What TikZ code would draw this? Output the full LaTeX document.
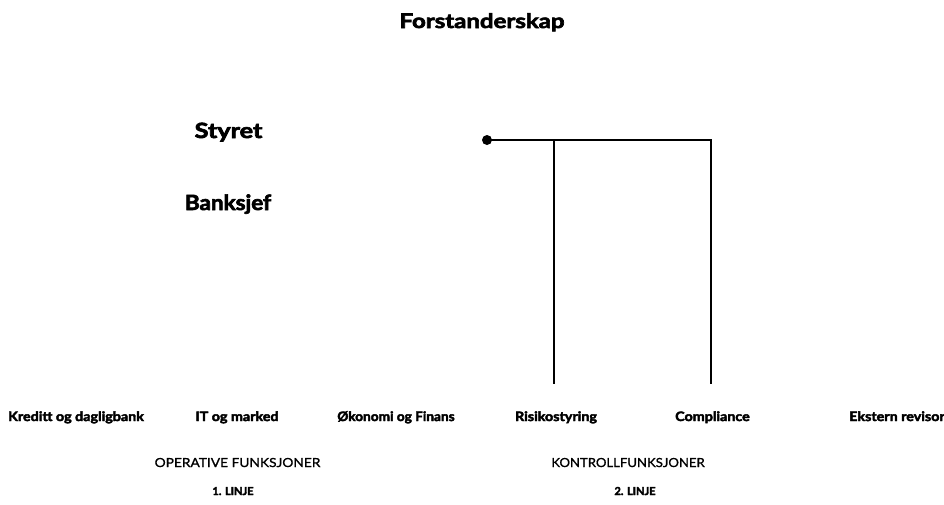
\documentclass[tikz,border=0pt]{standalone}
\usepackage{graphicx}
\usepackage{fontspec}
\setmainfont{Lato}[BoldFeatures={FakeBold=3}]
\newfontfamily\grpfont{Lato}[FakeBold=1]
\newcommand\hsx[2]{\scalebox{#1}[1]{#2}}
\tikzset{
  txt/.style={inner sep=0pt, anchor=base},
  title/.style={txt, font=\bfseries\fontsize{20}{24}\selectfont},
  level/.style={txt, font=\bfseries\fontsize{21}{25}\selectfont},
  unit/.style={txt, font=\bfseries\fontsize{13}{15}\selectfont},
  group/.style={txt, font=\grpfont\fontsize{12.5}{15}\selectfont},
  linje/.style={txt, font=\bfseries\fontsize{11}{13}\selectfont},
  conn/.style={line width=2pt},
  dotc/.style={fill=black, circle, inner sep=0pt, minimum size=10pt}
}
\begin{document}
\begin{tikzpicture}[x=1pt,y=-1pt]
\useasboundingbox (0,0) rectangle (944,504);
\node[title] (forst) at (482,28) {\hsx{1.2}{Forstanderskap}};
\node[level] (styret) at (228.5,138) {\hsx{1.2}{Styret}};
\node[level] (banksjef) at (228,210) {\hsx{1.07}{Banksjef}};
\node[dotc] (dot) at (487,140) {};
\coordinate (j1) at (554,140);
\coordinate (j2) at (711,140);
\coordinate (e1) at (554,384);
\coordinate (e2) at (711,384);
\draw[conn] (dot.center) -- (j2) -- (e2);
\draw[conn] (j1) -- (e1);
\node[unit] (kred) at (76,421) {\hsx{1.1}{Kreditt og dagligbank}};
\node[unit] (it) at (237,421) {\hsx{1.1}{IT og marked}};
\node[unit] (oko) at (396,421) {\hsx{1.05}{Økonomi og Finans}};
\node[unit] (risk) at (556,421) {\hsx{1.1}{Risikostyring}};
\node[unit] (comp) at (712.5,421) {\hsx{1.1}{Compliance}};
\node[unit] (ekst) at (897,421) {\hsx{1.1}{Ekstern revisor}};
\node[group] (oper) at (237.5,467) {\hsx{1.1}{OPERATIVE FUNKSJONER}};
\node[linje] (l1) at (233,495) {1. LINJE};
\node[group] (kontr) at (628,467) {\hsx{1.05}{KONTROLLFUNKSJONER}};
\node[linje] (l2) at (635,495) {2. LINJE};
\end{tikzpicture}
\end{document}
